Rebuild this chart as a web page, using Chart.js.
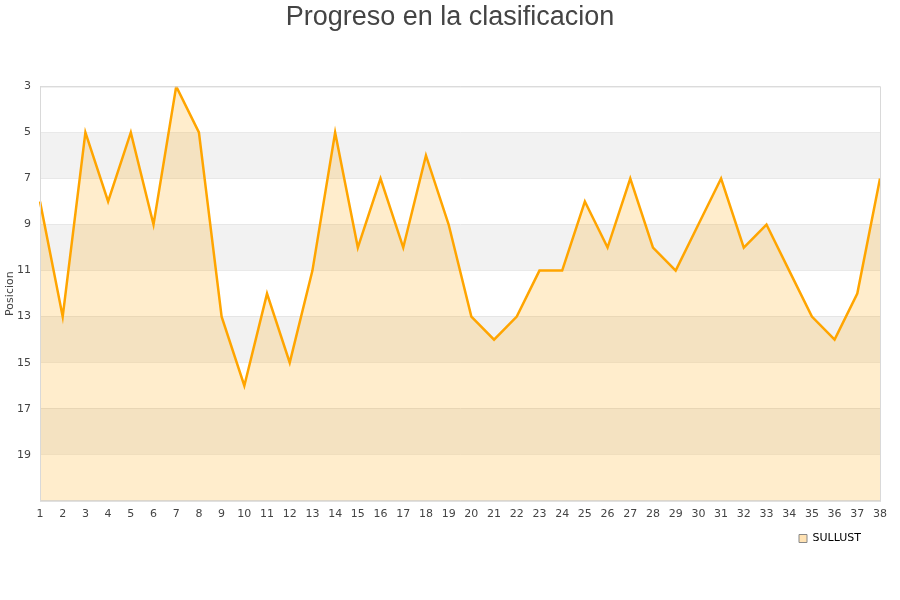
<!DOCTYPE html>
<html><head><meta charset="utf-8">
<script src="https://cdn.jsdelivr.net/npm/chart.js@4/dist/chart.umd.min.js"></script>
<style>html,body{margin:0;padding:0;background:#fff}#wrap{width:900px;height:600px}</style>
</head><body><div id="wrap"><canvas id="c"></canvas></div>
<script>
const jornadas = ['1','2','3','4','5','6','7','8','9','10','11','12','13','14','15','16','17','18','19','20','21','22','23','24','25','26','27','28','29','30','31','32','33','34','35','36','37','38'];
const posiciones = [8,13,5,8,5,9,3,5,13,16,12,15,11,5,10,7,10,6,9,13,14,13,11,11,8,10,7,10,11,9,7,10,9,11,13,14,12,7];
const equipo = 'SULLUST';
const titulo = 'Progreso en la clasificacion';
const ejeY = 'Posicion';
const yMin = 3, yMax = 21;

const bands = {
  id: 'bands',
  beforeDatasetsDraw(chart) {
    const {ctx, chartArea: a, scales: {y}} = chart;
    ctx.save();
    for (let v = yMin + 2; v < yMax; v += 4) {
      const t = y.getPixelForValue(v), b = y.getPixelForValue(v + 2);
      ctx.fillStyle = '#f2f2f2';
      ctx.fillRect(a.left, t, a.right - a.left, b - t);
    }
    ctx.restore();
  },
  afterLayout(chart) {
    const lg = chart.legend;
    if (lg) { lg.right -= 27; lg.width -= 27; }
  },
  afterDraw(chart) {
    const {ctx, chartArea: a} = chart;
    ctx.save();
    ctx.strokeStyle = '#d9d9d9';
    ctx.lineWidth = 1;
    ctx.strokeRect(a.left + 0.5, a.top + 0.5, a.right - a.left, a.bottom - a.top);
    ctx.restore();
  }
};

new Chart(document.getElementById('c'), {
  type: 'line',
  data: {
    labels: jornadas,
    datasets: [{
      label: equipo,
      data: posiciones,
      borderColor: '#ffa500',
      backgroundColor: 'rgba(255,165,0,0.2)',
      borderWidth: 2.5,
      pointRadius: 0,
      fill: {value: yMax},
      tension: 0
    }]
  },
  options: {
    responsive: true,
    maintainAspectRatio: false,
    animation: false,
    layout: {padding: {left: 0, right: 0, top: 0, bottom: 46}},
    plugins: {
      title: {display: true, text: titulo, color: '#444', font: {family: 'Liberation Sans', size: 27, weight: 'normal'}, padding: {top: 1, bottom: 53}},
      legend: {
        position: 'bottom', align: 'end',
        labels: {
          boxWidth: 8, boxHeight: 8, padding: 12, color: '#000', font: {family: 'DejaVu Sans', size: 11},
          generateLabels: (chart) => [{text: equipo, fillStyle: '#ffe2b3', strokeStyle: '#888', lineWidth: 1, datasetIndex: 0}]
        }
      },
      tooltip: {enabled: false}
    },
    scales: {
      x: {
        grid: {display: false, tickLength: 7},
        border: {color: '#d9d9d9'},
        ticks: {color: '#444', font: {family: 'DejaVu Sans', size: 11}, maxRotation: 0, autoSkip: false, padding: 0}
      },
      y: {
        reverse: true, min: yMin, max: yMax,
        grid: {color: '#dddddd', drawTicks: false, tickLength: 0},
        border: {color: '#d9d9d9'},
        afterFit: (s) => { s.width = 40; },
        ticks: {stepSize: 2, color: '#444', font: {family: 'DejaVu Sans', size: 11}, padding: 9,
          callback: (v) => v === yMax ? '' : v},
        title: {display: true, text: ejeY, color: '#444', font: {family: 'DejaVu Sans', size: 11}, padding: {top: 4, bottom: 0}}
      },
      yr: {
        position: 'right', display: true,
        grid: {display: false}, border: {display: false},
        ticks: {display: false},
        afterFit: (s) => { s.width = 20; }
      }
    }
  },
  plugins: [bands]
});
</script></body></html>
